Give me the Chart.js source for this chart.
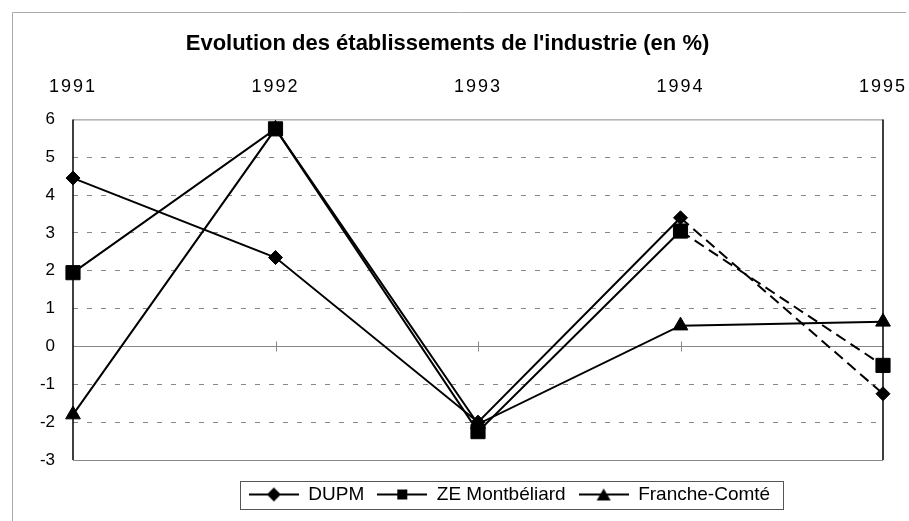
<!DOCTYPE html>
<html>
<head>
<meta charset="utf-8">
<title>Evolution des établissements de l'industrie</title>
<script src="https://cdn.jsdelivr.net/npm/chart.js@4.4.1/dist/chart.umd.min.js"></script>
<style>
  html, body { margin: 0; padding: 0; background: #fff; }
  #wrap { width: 909px; height: 521px; }
</style>
</head>
<body>
<div id="wrap"><canvas id="graphique" width="909" height="521"></canvas></div>
<script>
// valeurs (en %)
var annees = ["1991", "1992", "1993", "1994", "1995"];
var dupm = [4.45, 2.35, -2.0, 3.4, -1.25];
var zeMontbeliard = [1.95, 5.75, -2.25, 3.05, -0.5];
var francheComte = [-1.8, 5.75, -2.05, 0.55, 0.65];
var yMin = -3, yMax = 6, yPas = 1;

Chart.defaults.font.family = "'Liberation Sans', Arial, sans-serif";
Chart.defaults.color = "#000";

// petite icone trait + marqueur pour la legende
function icone(forme) {
  var c = document.createElement("canvas");
  c.width = 50; c.height = 18;
  var g = c.getContext("2d");
  g.strokeStyle = "#000"; g.lineWidth = 2;
  g.beginPath(); g.moveTo(0, 9); g.lineTo(50, 9); g.stroke();
  g.fillStyle = "#000";
  g.beginPath();
  if (forme == "rectRot") {
    g.moveTo(25, 2); g.lineTo(32, 9); g.lineTo(25, 16); g.lineTo(18, 9);
  } else if (forme == "rect") {
    g.rect(20, 4, 10, 10);
  } else {
    g.moveTo(25, 3); g.lineTo(32, 15); g.lineTo(18, 15);
  }
  g.closePath(); g.fill();
  return c;
}
var icones = [icone("rectRot"), icone("rect"), icone("triangle")];

function pointille(ctx) {
  return ctx.p1DataIndex == 4 ? [11, 6] : undefined;
}

var cadre = {
  id: "cadre",
  afterLayout: function (chart) {
    var leg = chart.legend;
    leg.top += 12; leg.bottom += 12;
    leg.left += 62; leg.right += 62;
    var ax = chart.scales.x;
    if (!ax.espace) {
      var dessin = ax.drawLabels;
      ax.drawLabels = function (zone) {
        this.ctx.save();
        this.ctx.letterSpacing = "2px";
        dessin.call(this, zone);
        this.ctx.restore();
      };
      ax.espace = true;
    }
  },
  beforeDraw: function (chart) {
    // cadre exterieur : bord gauche et bord haut
    var ctx = chart.ctx;
    ctx.save();
    ctx.strokeStyle = "#aaa"; ctx.lineWidth = 1;
    ctx.beginPath();
    ctx.moveTo(12.5, chart.height); ctx.lineTo(12.5, 12.5); ctx.lineTo(906, 12.5);
    ctx.stroke();
    ctx.restore();
  },
  beforeDatasetsDraw: function (chart) {
    var ctx = chart.ctx, a = chart.chartArea;
    var x = chart.scales.x, y = chart.scales.y;
    var y0 = Math.round(y.getPixelForValue(0)) + 0.5;
    ctx.save();
    ctx.strokeStyle = "#888"; ctx.lineWidth = 1;
    ctx.beginPath();
    ctx.moveTo(a.left, y0); ctx.lineTo(a.right, y0);
    for (var i = 1; i < annees.length - 1; i++) {
      var px = Math.round(x.getPixelForValue(i)) + 0.5;
      ctx.moveTo(px, y0 - 5); ctx.lineTo(px, y0 + 5);
    }
    ctx.moveTo(a.left, a.top + 0.5); ctx.lineTo(a.right, a.top + 0.5);
    ctx.moveTo(a.left, a.bottom + 0.5); ctx.lineTo(a.right, a.bottom + 0.5);
    ctx.stroke();
    ctx.strokeStyle = "#000"; ctx.lineWidth = 1.5;
    ctx.beginPath();
    ctx.moveTo(a.left, a.top); ctx.lineTo(a.left, a.bottom);
    ctx.moveTo(a.right, a.top); ctx.lineTo(a.right, a.bottom);
    ctx.stroke();
    ctx.restore();
  },
  afterDraw: function (chart) {
    var boites = chart.legend.legendHitBoxes;
    if (!boites || !boites.length) return;
    var g = Infinity, d = -Infinity, cy = 0;
    boites.forEach(function (b) {
      g = Math.min(g, b.left); d = Math.max(d, b.left + b.width);
      cy = b.top + b.height / 2;
    });
    var ctx = chart.ctx;
    ctx.save();
    ctx.strokeStyle = "#555"; ctx.lineWidth = 1;
    ctx.strokeRect(Math.round(g - 9) + 0.5, Math.round(cy - 14) + 0.5, Math.round(d - g + 22), 28);
    ctx.restore();
  }
};

new Chart(document.getElementById("graphique"), {
  type: "line",
  data: {
    labels: annees,
    datasets: [
      {
        label: "DUPM",
        data: dupm,
        pointStyle: "rectRot",
        pointRadius: 7,
        segment: { borderDash: pointille }
      },
      {
        label: "ZE Montbéliard",
        data: zeMontbeliard,
        pointStyle: "rect",
        pointRadius: 10,
        segment: { borderDash: pointille }
      },
      {
        label: "Franche-Comté",
        data: francheComte,
        pointStyle: "triangle",
        pointRadius: 8.5
      }
    ].map(function (ds) {
      ds.borderColor = "#000";
      ds.backgroundColor = "#000";
      ds.pointBackgroundColor = "#000";
      ds.pointBorderColor = "#000";
      ds.pointBorderWidth = 1;
      ds.borderWidth = 2;
      ds.tension = 0;
      ds.clip = false;
      return ds;
    })
  },
  options: {
    responsive: false,
    animation: false,
    events: [],
    layout: { padding: { top: 31, left: 12, right: 26, bottom: 19 } },
    plugins: {
      title: {
        display: true,
        text: "Evolution des établissements de l'industrie (en %)",
        font: { size: 22, weight: "bold" },
        color: "#000",
        padding: { top: 0, bottom: 0 }
      },
      legend: {
        position: "bottom",
        labels: {
          usePointStyle: true,
          pointStyleWidth: 50,
          font: { size: 19 },
          color: "#000",
          padding: 13,
          generateLabels: function (chart) {
            var items = Chart.defaults.plugins.legend.labels.generateLabels(chart);
            items.forEach(function (it, i) { it.pointStyle = icones[i]; });
            return items;
          }
        }
      },
      tooltip: { enabled: false }
    },
    scales: {
      x: {
        type: "category",
        position: "top",
        offset: false,
        grid: { display: false, drawTicks: true, tickLength: 22 },
        border: { display: false },
        ticks: { font: { size: 18 }, color: "#000", padding: 0, maxRotation: 0, autoSkip: false },
        afterFit: function (s) { s.height = 62; }
      },
      y: {
        min: yMin,
        max: yMax,
        grid: {
          drawTicks: false,
          color: function (c) {
            var v = c.tick.value;
            return (v == 0 || v == yMin || v == yMax) ? "rgba(0,0,0,0)" : "#888";
          },
          borderDash: [5, 9]
        },
        border: { display: false, dash: [5, 9] },
        ticks: { stepSize: yPas, font: { size: 17 }, color: "#000", padding: 18 },
        afterFit: function (s) { s.width = 61; }
      }
    }
  },
  plugins: [cadre]
});
</script>
</body>
</html>
